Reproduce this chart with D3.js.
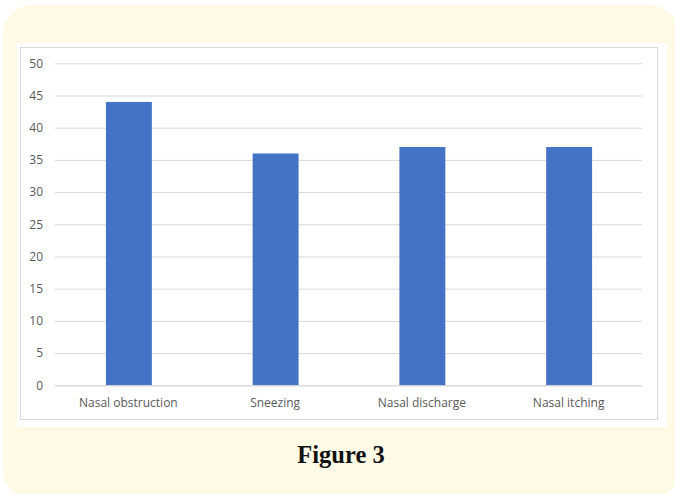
<!DOCTYPE html>
<html>
<head>
<meta charset="utf-8">
<script src="https://cdn.jsdelivr.net/npm/d3@7/dist/d3.min.js"></script>
<style>
  html, body { margin: 0; padding: 0; background: #ffffff; }
  svg { display: block; }
</style>
</head>
<body>
<svg id="chart" width="675" height="494"></svg>
<script>
// Symptom counts
const categories = ["Nasal obstruction", "Sneezing", "Nasal discharge", "Nasal itching"];
const values = [44, 36, 37, 37];
const yTicks = [0, 5, 10, 15, 20, 25, 30, 35, 40, 45, 50];
const caption = "Figure 3";

const svg = d3.select("#chart");

// Cream rounded panel behind the figure
svg.append("rect")
  .attr("x", 3).attr("y", 5)
  .attr("width", 676).attr("height", 494)
  .attr("rx", 30).attr("ry", 30)
  .attr("fill", "#fefae6");

// White chart frame
svg.append("rect")
  .attr("x", 17).attr("y", 43)
  .attr("width", 650).attr("height", 384)
  .attr("fill", "#ffffff");
svg.append("rect")
  .attr("x", 20.5).attr("y", 47.5)
  .attr("width", 637).attr("height", 372)
  .attr("fill", "#ffffff")
  .attr("stroke", "#d9d9d9")
  .attr("stroke-width", 1);

const plot = { left: 55, right: 642, top: 63.3, bottom: 385.3 };

const x = d3.scaleBand()
  .domain(categories)
  .range([plot.left, plot.right]);

const y = d3.scaleLinear()
  .domain([0, 50])
  .range([plot.bottom, plot.top]);

// Horizontal gridlines and y tick labels
const yAxis = d3.axisLeft(y)
  .tickValues(yTicks)
  .tickSize(-(plot.right - plot.left))
  .tickPadding(12);

const gy = svg.append("g")
  .attr("transform", `translate(${plot.left},0)`)
  .call(yAxis);
gy.select(".domain").remove();
gy.selectAll(".tick line").attr("stroke", "#d9d9d9").attr("stroke-width", 1);
gy.selectAll(".tick text")
  .attr("fill", "#595959")
  .style("font-family", "'Open Sans', 'Noto Sans', sans-serif")
  .style("font-size", "12px");

// Bars
const barW = x.bandwidth() * 0.313;
svg.append("g")
  .selectAll("rect")
  .data(values)
  .join("rect")
  .attr("x", (d, i) => x(categories[i]) + x.bandwidth() / 2 - barW / 2 + 0.5)
  .attr("y", d => y(d))
  .attr("width", barW)
  .attr("height", d => y(0) - y(d))
  .attr("fill", "#4472c4");

// Baseline
svg.append("line")
  .attr("x1", plot.left).attr("x2", plot.right)
  .attr("y1", y(0) + 0.5).attr("y2", y(0) + 0.5)
  .attr("stroke", "#d9d9d9");

// Category labels
const xAxis = d3.axisBottom(x).tickSize(0).tickPadding(13);
const gx = svg.append("g")
  .attr("transform", `translate(0,${plot.bottom})`)
  .call(xAxis);
gx.select(".domain").remove();
gx.selectAll(".tick text")
  .attr("fill", "#595959")
  .style("font-family", "'Open Sans', 'Noto Sans', sans-serif")
  .style("font-size", "12px");

// Caption
svg.append("text")
  .attr("x", 341).attr("y", 463)
  .attr("text-anchor", "middle")
  .attr("fill", "#111111")
  .style("font-family", "'Liberation Serif', 'DejaVu Serif', serif")
  .style("font-weight", "bold")
  .style("font-size", "24.5px")
  .text(caption);
</script>
</body>
</html>
